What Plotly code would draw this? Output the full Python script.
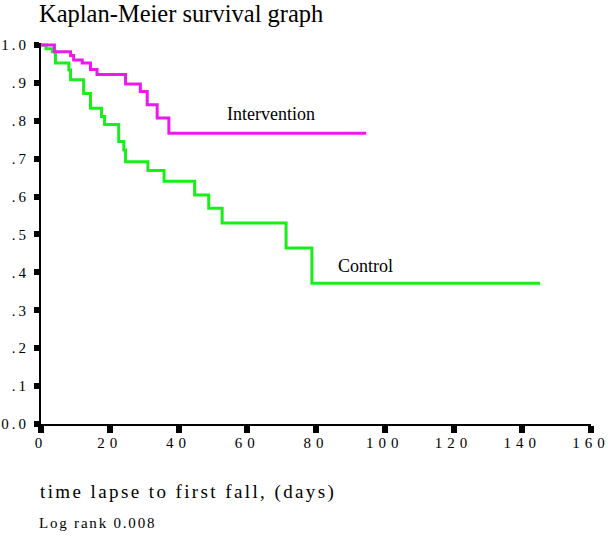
import plotly.graph_objects as go

# Kaplan-Meier step data (days, survival proportion)
control_days = [0, 1.45, 3.3, 4.2, 8.1, 8.6, 12.4, 14.4, 17.6, 18.5, 22.6, 24.1, 24.6,
                31.1, 35.8, 44.7, 48.8, 52.7, 71.3, 78.8, 145.2]
control_surv = [1.0, 0.99, 0.982, 0.952, 0.934, 0.908, 0.872, 0.833, 0.811, 0.79, 0.745,
                0.723, 0.692, 0.669, 0.640, 0.604, 0.569, 0.530, 0.464, 0.371, 0.371]

intervention_days = [0, 3.9, 8.6, 9.5, 12.0, 14.4, 16.3, 24.6, 28.9, 30.9, 33.8, 37.2, 94.6]
intervention_surv = [1.0, 0.982, 0.972, 0.96, 0.952, 0.935, 0.922, 0.897, 0.877, 0.842,
                     0.807, 0.767, 0.767]

x_ticks = [0, 20, 40, 60, 80, 100, 120, 140, 160]
x_tick_labels = ["0", "20", "40", "60", "80", "100", "120", "140", "160"]
y_ticks = [0.0, 0.1, 0.2, 0.3, 0.4, 0.5, 0.6, 0.7, 0.8, 0.9, 1.0]
y_tick_labels = ["0.0", ".1", ".2", ".3", ".4", ".5", ".6", ".7", ".8", ".9", "1.0"]

title_text = "Kaplan-Meier survival graph"
x_title = "time lapse to first fall, (days)"
note_text = "Log rank 0.008"
label_intervention = ("Intervention", 66.9, 0.819)
label_control = ("Control", 94.5, 0.4156)

SERIF = "Liberation Serif, Times New Roman, serif"
MAGENTA = "#ee18ee"
GREEN = "#18ee18"


def spaced(text, px):
    return f'<span style="letter-spacing:{px}px">{text}</span>'


fig = go.Figure()
fig.add_trace(go.Scatter(x=control_days, y=control_surv, mode="lines",
                         line=dict(color=GREEN, width=3, shape="hv"),
                         name="Control", hoverinfo="skip"))
fig.add_trace(go.Scatter(x=intervention_days, y=intervention_surv, mode="lines",
                         line=dict(color=MAGENTA, width=3, shape="hv"),
                         name="Intervention", hoverinfo="skip"))

annotations = [
    dict(text=title_text, xref="paper", yref="paper", x=-0.007, y=1.0787,
         xanchor="left", yanchor="middle", showarrow=False,
         font=dict(family=SERIF, size=24.5, color="black")),
    dict(text=spaced(x_title, 2.4), xref="paper", yref="paper", x=-0.005, y=-0.178,
         xanchor="left", yanchor="middle", showarrow=False,
         font=dict(family=SERIF, size=19, color="black")),
    dict(text=spaced(note_text, 1.8), xref="paper", yref="paper", x=-0.007, y=-0.259,
         xanchor="left", yanchor="middle", showarrow=False,
         font=dict(family=SERIF, size=15, color="black")),
]
for txt, xd, yd in (label_intervention, label_control):
    annotations.append(dict(text=txt, x=xd, y=yd, xref="x", yref="y",
                            xanchor="center", yanchor="middle", showarrow=False,
                            font=dict(family=SERIF, size=18, color="black")))

fig.update_layout(
    width=608, height=539,
    margin=dict(l=41, r=17, t=43, b=115, pad=0, autoexpand=False),
    paper_bgcolor="white", plot_bgcolor="white",
    showlegend=False,
    annotations=annotations,
    xaxis=dict(range=[0, 160], tickvals=x_ticks, automargin=False,
               ticktext=[spaced(t, 5) for t in x_tick_labels],
               ticklabeloverflow="allow",
               showgrid=False, zeroline=False, showline=True, linecolor="black",
               linewidth=2, ticks="outside", ticklen=7, tickwidth=6, tickcolor="black",
               ticklabelstandoff=-3,
               tickfont=dict(family=SERIF, size=15, color="black")),
    yaxis=dict(range=[0, 1.005], tickvals=y_ticks, automargin=False,
               ticktext=[spaced(t, 3) for t in y_tick_labels],
               ticklabeloverflow="allow",
               showgrid=False, zeroline=False, showline=True, linecolor="black",
               linewidth=2, ticks="outside", ticklen=5, tickwidth=6, tickcolor="black",
               ticklabelstandoff=2,
               tickfont=dict(family=SERIF, size=15, color="black")),
)

# remove the browser's default 8px page margin so the figure fills the window
fig.write_html("out.html",
               config={"displayModeBar": False},
               post_script="document.body.style.margin='0';"
                           "document.body.style.overflow='hidden';")
